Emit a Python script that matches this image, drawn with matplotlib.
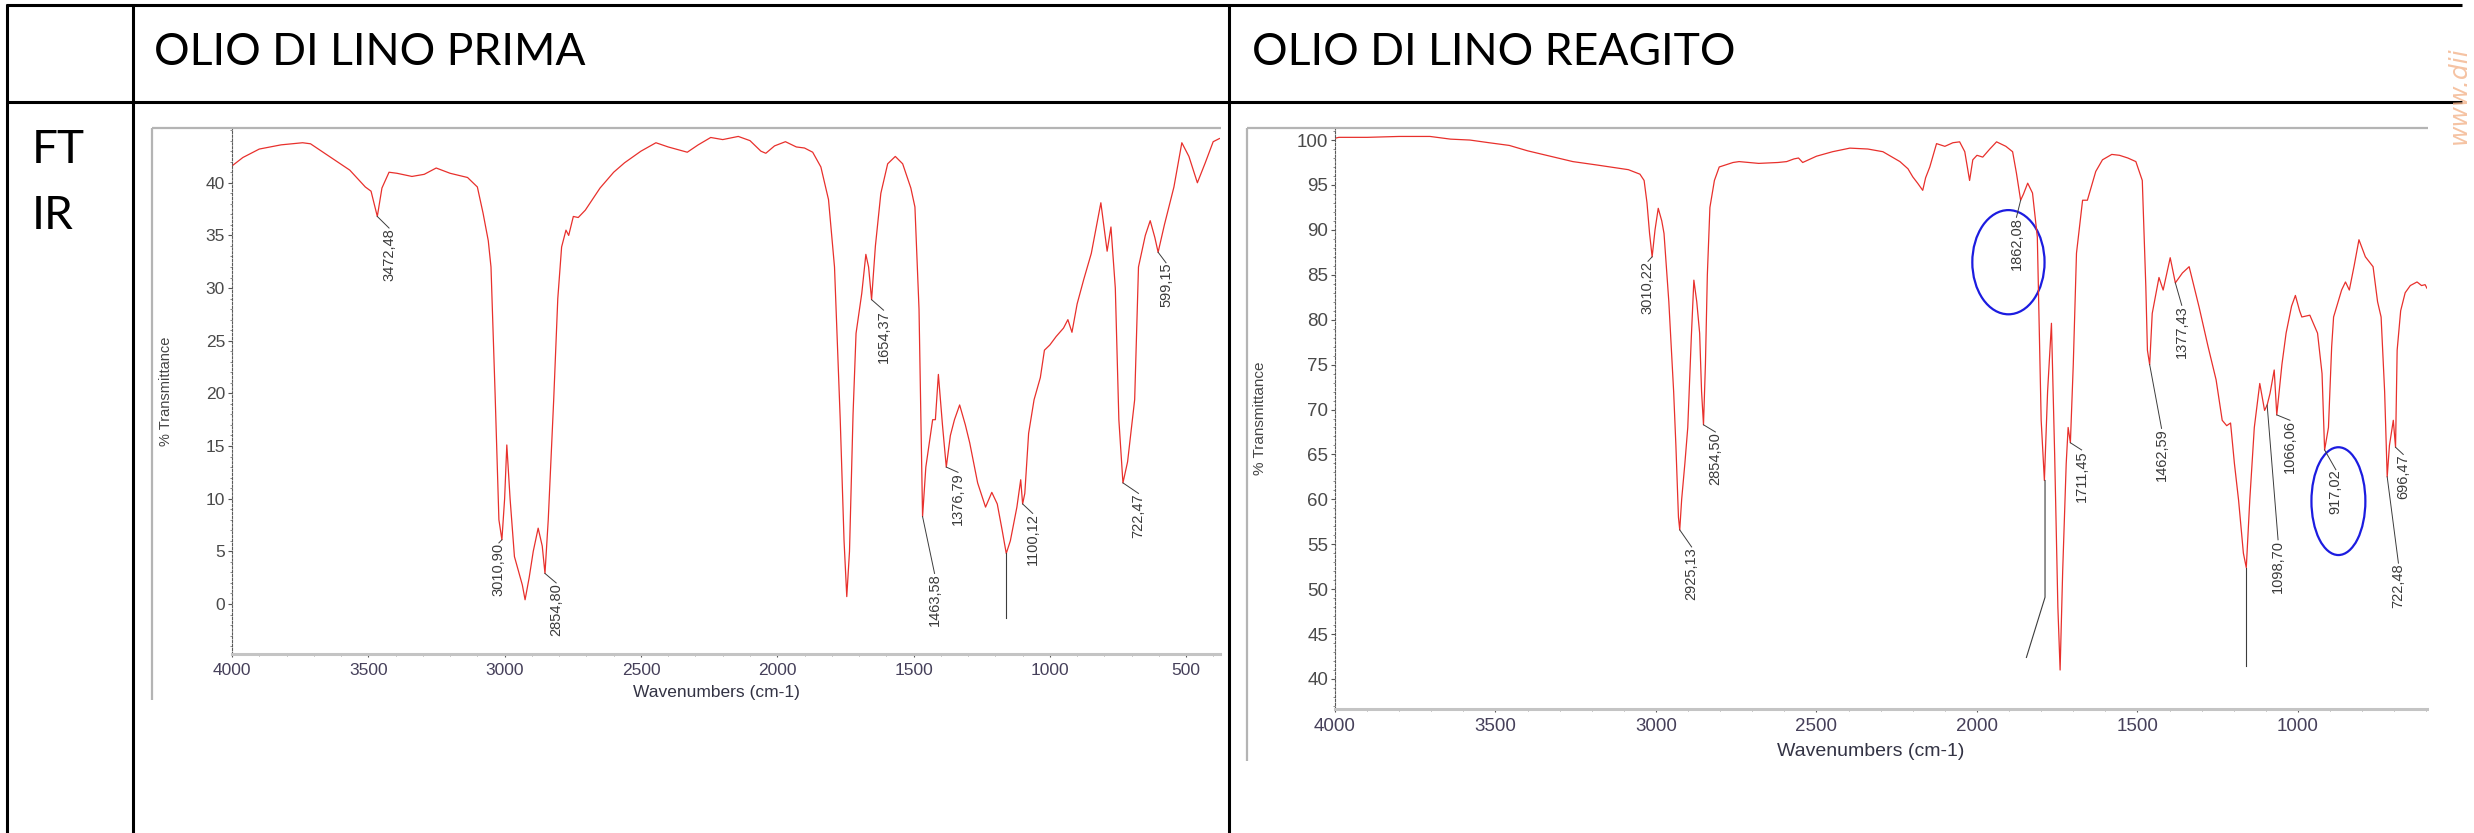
import numpy as np
import matplotlib
matplotlib.use('Agg')
import matplotlib.pyplot as plt
from matplotlib import font_manager
from matplotlib.lines import Line2D
from matplotlib.patches import Ellipse
from matplotlib.ticker import MultipleLocator

W, H = 2474, 833

header_left = 'OLIO DI LINO PRIMA'
header_right = 'OLIO DI LINO REAGITO'
row_label = ['FT', 'IR']

# --- spectrum before reaction (wavenumber, % transmittance)
wn_prima = [4000, 3960, 3900, 3820, 3741, 3712, 3660, 3626, 3568, 3511, 3490, 3467, 3450, 3424,
            3395, 3340, 3295, 3251, 3200, 3136, 3100, 3079, 3060, 3050, 3035, 3021, 3010, 3000,
            2992, 2980, 2964, 2950, 2935, 2925, 2910, 2895, 2877, 2862, 2852, 2840, 2820, 2805,
            2791, 2775, 2765, 2748, 2730, 2704, 2650, 2600, 2560, 2500, 2445, 2400, 2330, 2290,
            2244, 2200, 2143, 2100, 2060, 2042, 2010, 1970, 1930, 1900, 1870, 1840, 1812, 1790,
            1769, 1755, 1745, 1735, 1722, 1711, 1690, 1675, 1665, 1654, 1640, 1620, 1595, 1567,
            1540, 1510, 1495, 1480, 1467, 1455, 1430, 1420, 1409, 1394, 1380, 1365, 1350, 1331,
            1310, 1294, 1265, 1236, 1213, 1193, 1175, 1160, 1145, 1121, 1107, 1100, 1092, 1078,
            1058, 1035, 1020, 1000, 977, 950, 934, 919, 900, 876, 848, 813, 790, 776, 760, 747,
            732, 715, 689, 675, 650, 632, 615, 603, 580, 545, 516, 490, 459, 430, 401, 378]
t_prima = [41.6, 42.4, 43.2, 43.6, 43.8, 43.7, 42.8, 42.2, 41.2, 39.6, 39.2, 36.8, 39.5, 41.0,
           40.9, 40.6, 40.8, 41.4, 40.9, 40.5, 39.6, 37.1, 34.5, 32.0, 20.0, 8.0, 6.1, 10.0,
           15.1, 10.0, 4.5, 3.2, 1.8, 0.4, 2.5, 5.0, 7.2, 5.5, 2.9, 8.0, 19.4, 29.0,
           33.9, 35.5, 35.0, 36.8, 36.7, 37.4, 39.5, 41.0, 41.9, 43.0, 43.8, 43.4, 42.9, 43.6,
           44.3, 44.1, 44.4, 44.0, 43.0, 42.8, 43.5, 43.9, 43.4, 43.3, 42.9, 41.5, 38.4, 32.0,
           17.5, 6.0, 0.7, 5.0, 18.0, 25.7, 29.5, 33.2, 32.0, 28.9, 34.0, 39.0, 41.8, 42.5,
           41.8, 39.5, 37.7, 28.0, 8.3, 13.0, 17.5, 17.5, 21.8, 17.0, 13.0, 16.0, 17.5, 18.9,
           17.0, 15.3, 11.5, 9.2, 10.6, 9.5, 7.0, 4.8, 6.0, 9.2, 11.8, 9.5, 10.5, 16.2,
           19.4, 21.5, 24.1, 24.6, 25.4, 26.2, 27.0, 25.8, 28.5, 30.8, 33.3, 38.1, 33.5, 35.8, 30.0, 17.5,
           11.5, 13.5, 19.4, 32.0, 35.0, 36.4, 34.8, 33.4, 36.0, 39.6, 43.8, 42.5, 40.0, 41.9, 43.9, 44.2]

lab_prima = ['3472,48', '3010,90', '2854,80', '1654,37', '1463,58', '1376,79', '1100,12', '722,47', '599,15']
lab_prima_peak = [3467, 3010, 2852, 1654, 1467, 1380, 1100, 732, 603]
lab_prima_x = [3424, 3021, 2811, 1610, 1423, 1337, 1063, 675, 574]
lab_prima_top = [35.7, 5.8, 2.0, 27.9, 2.9, 12.5, 8.6, 10.5, 32.4]
stub_prima_wn = [1160, 1160]
stub_prima_t = [4.8, -1.3]

# --- spectrum after reaction
wn_reag = [4000, 3988, 3900, 3800, 3704, 3640, 3580, 3520, 3457, 3400, 3330, 3259, 3180, 3086,
           3050, 3037, 3028, 3020, 3012, 3003, 2993, 2982, 2975, 2960, 2945, 2938, 2930, 2926,
           2920, 2910, 2901, 2890, 2882, 2873, 2864, 2858, 2852, 2846, 2840, 2832, 2818, 2803,
           2760, 2741, 2680, 2620, 2593, 2570, 2556, 2543, 2500, 2450, 2396, 2340, 2293, 2240,
           2215, 2200, 2185, 2169, 2160, 2147, 2126, 2100, 2075, 2054, 2038, 2023, 2013, 2000,
           1982, 1960, 1939, 1910, 1889, 1877, 1864, 1855, 1842, 1827, 1812, 1800, 1790, 1780,
           1768, 1758, 1748, 1741, 1733, 1722, 1716, 1709, 1700, 1690, 1671, 1656, 1630, 1609,
           1580, 1556, 1530, 1505, 1485, 1474, 1469, 1462, 1454, 1433, 1420, 1398, 1382, 1360,
           1339, 1308, 1280, 1255, 1236, 1222, 1210, 1198, 1185, 1170, 1161, 1150, 1136, 1119,
           1104, 1096, 1087, 1074, 1066, 1050, 1037, 1020, 1008, 995, 988, 963, 939, 925,
           917, 905, 895, 889, 864, 852, 840, 825, 810, 790, 766, 752, 741, 730,
           722, 715, 703, 696, 691, 680, 666, 650, 629, 615, 604, 598]
t_reag = [100.2, 100.3, 100.3, 100.4, 100.4, 100.1, 100.0, 99.7, 99.4, 98.8, 98.2, 97.6, 97.2, 96.7,
          96.2, 95.5, 93.0, 89.6, 87.0, 90.0, 92.4, 91.0, 89.6, 82.0, 72.0, 66.0, 58.0, 56.6,
          60.0, 64.0, 68.0, 78.0, 84.4, 82.0, 78.5, 72.0, 68.3, 75.0, 85.0, 92.5, 95.5, 97.0,
          97.5, 97.6, 97.4, 97.5, 97.6, 97.9, 98.0, 97.5, 98.2, 98.7, 99.1, 99.0, 98.7, 97.6,
          96.8, 95.9, 95.2, 94.4, 95.8, 97.0, 99.6, 99.3, 99.7, 99.8, 98.7, 95.5, 97.8, 98.3,
          98.1, 99.0, 99.8, 99.3, 98.7, 96.3, 93.3, 94.0, 95.2, 94.1, 89.2, 68.8, 62.1, 72.0,
          79.6, 65.0, 48.0, 41.0, 52.0, 64.0, 68.0, 66.3, 75.0, 87.4, 93.3, 93.3, 96.5, 97.8,
          98.4, 98.3, 98.0, 97.6, 95.5, 83.7, 76.6, 75.0, 80.7, 84.7, 83.3, 86.9, 84.1, 85.2,
          85.9, 81.4, 77.0, 73.3, 68.8, 68.2, 68.5, 64.0, 59.9, 54.0, 52.4, 60.0, 68.0, 72.9,
          69.9, 70.5, 71.8, 74.4, 69.4, 75.0, 78.5, 81.5, 82.7, 81.0, 80.3, 80.5, 78.5, 74.0,
          65.5, 68.0, 77.0, 80.3, 83.3, 84.2, 83.3, 86.0, 88.9, 87.0, 85.9, 82.0, 80.3, 72.0,
          62.5, 66.0, 68.8, 65.8, 76.6, 81.0, 83.0, 83.8, 84.2, 83.8, 83.9, 83.5]

lab_reag = ['3010,22', '2925,13', '2854,50', '1862,08', '1711,45', '1462,59', '1377,43',
            '1098,70', '1066,06', '917,02', '696,47', '722,48']
lab_reag_peak = [3012, 2926, 2852, 1864, 1709, 1462, 1382, 1096, 1066, 917, 696, 722]
lab_reag_x = [3025, 2889, 2815, 1877, 1674, 1425, 1362, 1062, 1025, 882, 672, 687]
lab_reag_top = [86.5, 54.7, 67.5, 91.4, 65.5, 67.9, 81.6, 55.5, 68.8, 63.3, 65.0, 52.9]
stub_reag_a_wn = [1161, 1161]
stub_reag_a_t = [52.4, 41.5]
stub_reag_b_wn = [1788, 1788, 1846]
stub_reag_b_t = [62.1, 49.1, 42.4]

# highlighted peaks (blue ellipses): centre wn, centre T, width wn, height T
ell_wn = [1902, 874]
ell_t = [86.4, 59.8]
ell_w = [225, 168]
ell_h = [11.6, 12.0]

names = {f.name for f in font_manager.fontManager.ttflist}
NARROW = 'Liberation Sans Narrow' if 'Liberation Sans Narrow' in names else 'Liberation Sans'
HEAD = 'Lato'

fig = plt.figure(figsize=(W / 100, H / 100), dpi=100)


def fx(px):
    return px / W


def fy(py):
    return 1 - py / H


def hline(x0, x1, y, **kw):
    fig.add_artist(Line2D([fx(x0), fx(x1)], [fy(y), fy(y)], transform=fig.transFigure, **kw))


def vline(x, y0, y1, **kw):
    fig.add_artist(Line2D([fx(x), fx(x)], [fy(y0), fy(y1)], transform=fig.transFigure, **kw))


# table grid
tab = dict(color='black', lw=2.2, solid_capstyle='butt')
hline(6, 2462, 5, **tab)
hline(6, 2462, 102, **tab)
vline(7, 4, 833, **tab)
vline(133, 4, 833, **tab)
vline(1229, 4, 833, **tab)

fig.text(fx(154), fy(65), header_left, fontsize=32, family=HEAD, va='baseline', ha='left')
fig.text(fx(1252), fy(65), header_right, fontsize=32, family=HEAD, va='baseline', ha='left')
fig.text(fx(32), fy(163), row_label[0], fontsize=33, family=HEAD, va='baseline', ha='left')
fig.text(fx(32), fy(229), row_label[1], fontsize=33, family=HEAD, va='baseline', ha='left')

# watermark at right edge
fig.text(fx(2459), fy(95), 'www.dii', fontsize=18, style='italic', rotation=90,
         color='#f3b48c', alpha=0.8, ha='center', va='center', family='DejaVu Sans')

# screenshot frames
frame = dict(color='#b4b4b4', lw=1.6, solid_capstyle='butt')
hline(152, 1221, 128, **frame)
vline(152, 128, 700, **frame)
hline(1247, 2428, 128, **frame)
vline(1247, 128, 761, **frame)


def spectrum(box, wn, t, xlim, ylim, yticks, xticks, labels, peaks, lx, ltop, stubs, tick_fs, xl_fs, xl_y):
    x0, x1, y0, y1 = box
    ax = fig.add_axes([fx(x0), fy(y1), (x1 - x0) / W, (y1 - y0) / H])
    ax.plot(wn, t, color='#e8302c', lw=0.9)
    wn_a = np.array(wn)[::-1]
    t_a = np.array(t)[::-1]
    for lab, pk, x, top in zip(labels, peaks, lx, ltop):
        tc = np.interp(pk, wn_a, t_a)
        ax.plot([pk, x], [tc, top], color='#3c3c3c', lw=0.7)
        ax.text(x, top, lab, rotation=90, ha='center', va='top', fontsize=10.5,
                family='Liberation Sans', color='#3a3a3a')
    for sw, st in stubs:
        ax.plot(sw, st, color='#3c3c3c', lw=0.8)
    ax.set_xlim(*xlim)
    ax.set_ylim(*ylim)
    ax.set_xticks(xticks)
    ax.set_yticks(yticks)
    ax.xaxis.set_minor_locator(MultipleLocator(100))
    ax.yaxis.set_minor_locator(MultipleLocator(1))
    for s in ['top', 'right']:
        ax.spines[s].set_visible(False)
    ax.spines['left'].set_color('#5a5a5a')
    ax.spines['left'].set_linewidth(0.8)
    ax.spines['left'].set_linestyle((0, (2, 1.5)))
    ax.spines['bottom'].set_color('#c4c4c4')
    ax.spines['bottom'].set_linewidth(2.2)
    ax.tick_params(axis='y', which='major', length=3, width=0.8, color='#555', pad=2,
                   labelsize=tick_fs, labelcolor='#4a4a4a')
    ax.tick_params(axis='y', which='minor', length=1.5, width=0.6, color='#777')
    ax.tick_params(axis='x', which='major', length=2.5, width=0.8, color='#555', pad=4,
                   labelsize=tick_fs, labelcolor='#46405a')
    ax.tick_params(axis='x', which='minor', length=1.5, width=0.6, color='#888')
    for lbl in ax.get_xticklabels() + ax.get_yticklabels():
        lbl.set_family(NARROW)
    ax.patch.set_alpha(0)
    fig.text(fx((x0 + x1) / 2 - 10), fy(xl_y), 'Wavenumbers (cm-1)', fontsize=xl_fs,
             family=NARROW, color='#333344', ha='center', va='center')
    return ax


ax1 = spectrum((232, 1220, 128, 654), wn_prima, t_prima, (4000, 376), (-4.75, 45.2),
               np.arange(0, 41, 5), np.arange(4000, 499, -500), lab_prima, lab_prima_peak,
               lab_prima_x, lab_prima_top, [(stub_prima_wn, stub_prima_t)], 12.5, 12.5, 692)
fig.text(fx(166), fy(391), '% Transmittance', rotation=90, fontsize=10.5,
         family='Liberation Sans', color='#444', ha='center', va='center')

ax2 = spectrum((1335, 2427, 128, 709), wn_reag, t_reag, (4000, 598), (36.66, 101.34),
               np.arange(40, 101, 5), np.arange(4000, 999, -500), lab_reag, lab_reag_peak,
               lab_reag_x, lab_reag_top,
               [(stub_reag_a_wn, stub_reag_a_t), (stub_reag_b_wn, stub_reag_b_t)], 13.5, 14, 751)
fig.text(fx(1260), fy(418), '% Transmittance', rotation=90, fontsize=11,
         family='Liberation Sans', color='#444', ha='center', va='center')

for cw, ct, w, h in zip(ell_wn, ell_t, ell_w, ell_h):
    ax2.add_patch(Ellipse((cw, ct), w, h, fill=False, edgecolor='#1c1ce0', lw=1.6))

fig.savefig('out.png', dpi=100)
